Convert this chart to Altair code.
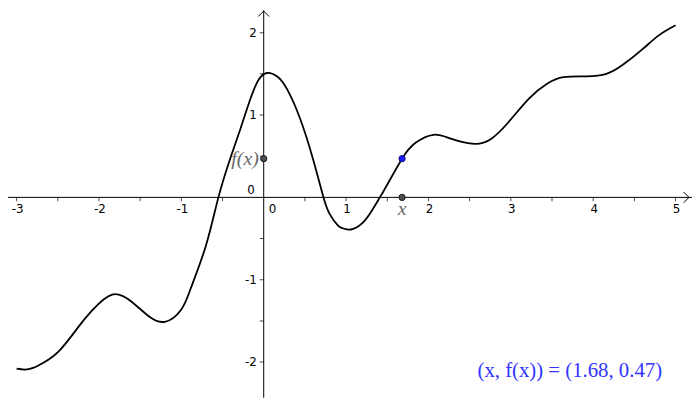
import altair as alt
import pandas as pd

# curve samples
xs = [-3.00, -2.90, -2.80, -2.68, -2.48, -2.24, -2.08, -1.84, -1.60, -1.40, -1.20,
      -1.00, -0.88, -0.70, -0.55, -0.40, -0.28, -0.16, -0.06, 0.04, 0.16,
      0.28, 0.44, 0.60, 0.72, 0.80, 0.90, 0.96, 1.06, 1.20, 1.32, 1.41, 1.48, 1.68,
      1.84, 2.06, 2.28, 2.56, 2.76, 2.96, 3.22, 3.44, 3.64, 3.92, 4.16, 4.36,
      4.60, 4.80, 5.00]
ys = [-2.08, -2.09, -2.07, -2.01, -1.86, -1.56, -1.37, -1.18, -1.27, -1.44, -1.51,
      -1.36, -1.09, -0.58, 0.00, 0.49, 0.84, 1.20, 1.43, 1.51, 1.47,
      1.32, 0.96, 0.46, 0.02, -0.20, -0.34, -0.375, -0.39, -0.31, -0.15, 0.00, 0.12, 0.47,
      0.66, 0.76, 0.71, 0.65, 0.71, 0.90, 1.20, 1.38, 1.46, 1.47, 1.50, 1.61,
      1.80, 1.97, 2.09]

point_x = 1.68
point_y = 0.47

x_labels = [-3, -2, -1, 1, 2, 3, 4, 5]
y_labels = [-2, -1, 1, 2]
x_ticks = [-3, -2.5, -2, -1.5, -1, -0.5, 0.5, 1, 1.5, 2, 2.5, 3, 3.5, 4, 4.5, 5]
y_ticks = [-2, -1.5, -1, -0.5, 0.5, 1, 1.5, 2]

W, H = 692, 392
xsc = alt.Scale(domain=[-3.1044, 5.1996], nice=False, zero=False)
ysc = alt.Scale(domain=[-2.4324, 2.2716], nice=False, zero=False)

curve_df = pd.DataFrame({"x": xs, "y": ys})
zero_df = pd.DataFrame({"v": [0]})
xt_df = pd.DataFrame({"x": x_ticks, "y": [0] * len(x_ticks)})
yt_df = pd.DataFrame({"y": y_ticks, "x": [0] * len(y_ticks)})
xl_df = pd.DataFrame({"x": x_labels, "y": [0] * len(x_labels),
                      "t": [str(v) for v in x_labels]})
yl_df = pd.DataFrame({"y": y_labels, "x": [0] * len(y_labels),
                      "t": [str(v) for v in y_labels]})
pt_df = pd.DataFrame({"x": [point_x], "y": [point_y]})
gp_df = pd.DataFrame({"x": [0, point_x], "y": [point_y, 0]})
zero_lbl = pd.DataFrame({"x": [0], "y": [0], "t": ["0"]})

X = lambda f="x:Q": alt.X(f, scale=xsc, axis=None)
Y = lambda f="y:Q": alt.Y(f, scale=ysc, axis=None)

font = "DejaVu Sans"

xaxis = alt.Chart(zero_df).mark_rule(color="black", strokeWidth=1).encode(y=Y("v:Q"))
yaxis = alt.Chart(zero_df).mark_rule(color="black", strokeWidth=1).encode(x=X("v:Q"))

xarrow = alt.Chart(pd.DataFrame({"x": [5.163], "y": [0]})).mark_point(
    shape="M-1,-1L0,0L-1,1", filled=False, color="black", size=120, strokeWidth=1, opacity=1
).encode(x=X(), y=Y())
yarrow = alt.Chart(pd.DataFrame({"x": [0], "y": [2.262]})).mark_point(
    shape="M-1,1L0,0L1,1", filled=False, color="black", size=120, strokeWidth=1, opacity=1
).encode(x=X(), y=Y())

xticks = alt.Chart(xt_df).mark_tick(orient="vertical", size=4, thickness=1,
                                     color="black", yOffset=2).encode(x=X(), y=Y())
yticks = alt.Chart(yt_df).mark_tick(orient="horizontal", size=4, thickness=1,
                                     color="black", xOffset=-2).encode(x=X(), y=Y())

xlabels = alt.Chart(xl_df).mark_text(font=font, fontSize=12, baseline="top", dy=7, dx=1,
                                      color="black").encode(x=X(), y=Y(), text="t:N")
ylabels = alt.Chart(yl_df).mark_text(font=font, fontSize=12, align="right",
                                      baseline="middle", dx=-7, color="black").encode(x=X(), y=Y(), text="t:N")
x0label = alt.Chart(zero_lbl).mark_text(font=font, fontSize=12, baseline="top", dy=7, dx=9,
                                         color="black").encode(x=X(), y=Y(), text="t:N")
y0label = alt.Chart(zero_lbl).mark_text(font=font, fontSize=12, align="right", baseline="middle",
                                         dx=-9, dy=-7, color="black").encode(x=X(), y=Y(), text="t:N")

curve = alt.Chart(curve_df).mark_line(color="black", strokeWidth=1.8,
                                      interpolate="natural").encode(x=X(), y=Y())

gpoints = alt.Chart(gp_df).mark_point(filled=True, shape="circle", size=40, fill="#4d4d4d",
                                      stroke="#1a1a1a", strokeWidth=1, opacity=1).encode(x=X(), y=Y())
bpoint = alt.Chart(pt_df).mark_point(filled=True, shape="circle", size=40, fill="#1a1aff",
                                     stroke="#10107a", strokeWidth=1, opacity=1).encode(x=X(), y=Y())

fx_label = alt.Chart(pd.DataFrame({"x": [0], "y": [point_y], "t": ["f(x)"]})).mark_text(
    font="Liberation Serif", fontStyle="italic", fontSize=20, align="right", baseline="middle",
    dx=-5, color="#666666").encode(x=X(), y=Y(), text="t:N")
x_label = alt.Chart(pd.DataFrame({"x": [point_x], "y": [0], "t": ["x"]})).mark_text(
    font="Liberation Serif", fontStyle="italic", fontSize=20, align="center", baseline="middle",
    dy=12, color="#666666").encode(x=X(), y=Y(), text="t:N")

formula = alt.Chart(pd.DataFrame({"t": [f"(x, f(x)) = ({point_x:.2f}, {point_y:.2f})"]})).mark_text(
    font="Liberation Serif", fontSize=21, align="left", baseline="middle", color="#3333ff"
).encode(x=alt.value(475), y=alt.value(365), text="t:N")

chart = alt.layer(
    xaxis, yaxis, xarrow, yarrow, xticks, yticks, xlabels, ylabels, x0label, y0label,
    curve, gpoints, bpoint, fx_label, x_label, formula
).properties(width=W, height=H, padding=0, autosize=alt.AutoSizeParams(type="none")
).configure_view(stroke=None)

chart.save("out.html", embed_options={"renderer": "svg", "actions": False})
